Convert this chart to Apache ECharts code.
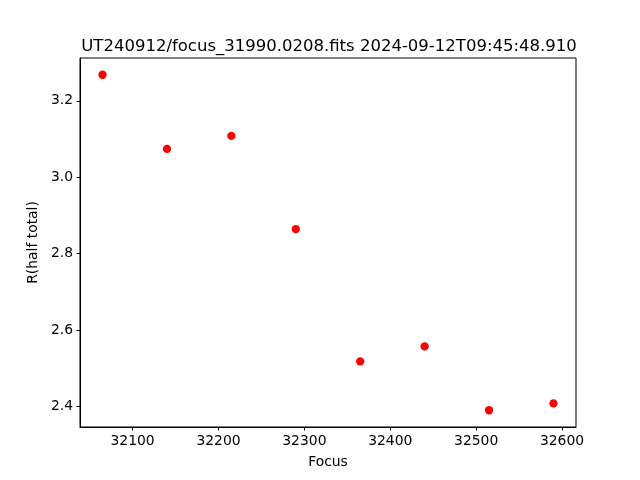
<!DOCTYPE html>
<html><head><meta charset="utf-8">
<script src="https://cdn.jsdelivr.net/npm/echarts@6/dist/echarts.min.js"></script>
<style>html,body{margin:0;padding:0;background:#fff}#c{width:640px;height:480px}</style>
</head><body><div id="c"></div>
<script>
const focusValues = [32065, 32140, 32215, 32290, 32365, 32440, 32515, 32590];
const rHalfTotal = [3.268, 3.074, 3.108, 2.864, 2.518, 2.557, 2.390, 2.408];
const xTicks = [32100, 32200, 32300, 32400, 32500, 32600];
const yTicks = [2.4, 2.6, 2.8, 3.0, 3.2];
const titleText = 'UT240912/focus_31990.0208.fits 2024-09-12T09:45:48.910';

function pad(arr) {
  const mn = Math.min(...arr), mx = Math.max(...arr), m = (mx - mn) * 0.05;
  return [mn - m, mx + m];
}
const xr = pad(focusValues), yr = pad(rHalfTotal);
const font = 'DejaVu Sans';
const chart = echarts.init(document.getElementById('c'), null, {renderer: 'canvas'});
chart.setOption({
  animation: false,
  backgroundColor: '#fff',
  title: {
    text: titleText, left: 324, top: 33, textAlign: 'center',
    textStyle: {fontFamily: font, fontSize: 16.5, fontWeight: 'normal', color: '#000'}
  },
  grid: {left: 80, right: 64, top: 58, bottom: 53, show: true, borderColor: '#000', borderWidth: 1, backgroundColor: 'transparent'},
  xAxis: {
    type: 'value', min: xr[0], max: xr[1],
    name: 'Focus', nameLocation: 'middle', nameGap: 28,
    nameTextStyle: {fontFamily: font, fontSize: 13.9, color: '#000'},
    axisLine: {show: true, lineStyle: {color: '#000', width: 1}},
    axisTick: {show: true, inside: false, length: 3.5, lineStyle: {color: '#000'}, customValues: xTicks},
    axisLabel: {fontFamily: font, fontSize: 13.9, color: '#000', margin: 7, customValues: xTicks, formatter: v => String(v)},
    splitLine: {show: false}
  },
  yAxis: {
    type: 'value', min: yr[0], max: yr[1],
    name: 'R(half total)', nameLocation: 'middle', nameGap: 33, nameRotate: 90,
    nameTextStyle: {fontFamily: font, fontSize: 13.9, color: '#000'},
    axisLine: {show: true, lineStyle: {color: '#000', width: 1}},
    axisTick: {show: true, inside: false, length: 3.5, lineStyle: {color: '#000'}, customValues: yTicks},
    axisLabel: {fontFamily: font, fontSize: 13.9, color: '#000', margin: 7, customValues: yTicks, formatter: v => v.toFixed(1)},
    splitLine: {show: false}
  },
  series: [{
    type: 'scatter',
    data: focusValues.map((x, i) => [x, rHalfTotal[i]]),
    symbol: 'circle', symbolSize: 8.3,
    itemStyle: {color: '#ff0000', opacity: 1}
  }]
});
</script></body></html>
